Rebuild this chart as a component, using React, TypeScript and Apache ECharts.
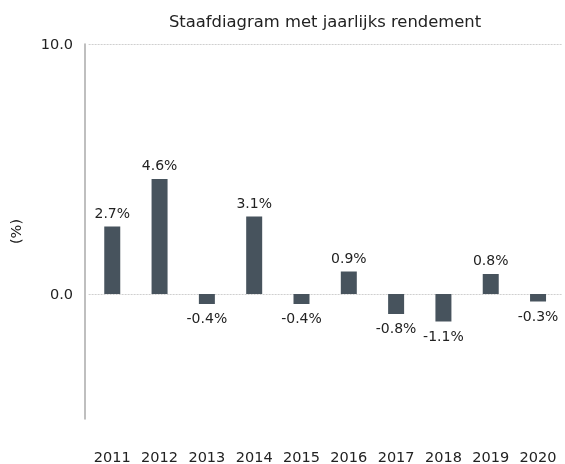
import React, { useEffect, useRef } from "react";
import * as echarts from "echarts";

const years = ["2011", "2012", "2013", "2014", "2015", "2016", "2017", "2018", "2019", "2020"];
const returns = [2.7, 4.6, -0.4, 3.1, -0.4, 0.9, -0.8, -1.1, 0.8, -0.3];
const yTicks = [0, 10];
const titleText = "Staafdiagram met jaarlijks rendement";
const yName = "(%)";

const FONT = "DejaVu Sans";
const BAR = "#47535d";

export default function App() {
  const ref = useRef<HTMLDivElement>(null);
  useEffect(() => {
    const chart = echarts.init(ref.current!, undefined, { renderer: "svg" });
    chart.setOption({
      animation: false,
      title: {
        text: titleText,
        left: 320,
        textAlign: "center",
        top: 8,
        textStyle: { fontFamily: FONT, fontSize: 16.4, fontWeight: "normal", color: "#222" },
      },
      grid: { left: 88.6, right: 3.3, top: 44, bottom: 45 },
      xAxis: {
        type: "category",
        data: years,
        axisLine: { show: false },
        axisTick: { show: false },
        axisLabel: { interval: 0, margin: 30, fontFamily: FONT, fontSize: 14.5, color: "#222" },
        splitLine: { show: false },
      },
      yAxis: {
        type: "value",
        min: -5,
        max: 10,
        offset: 3.6,
        name: yName,
        nameLocation: "middle",
        nameGap: 62,
        nameTextStyle: { fontFamily: FONT, fontSize: 14.5, color: "#222" },
        axisLine: { show: true, lineStyle: { color: "#aaa", width: 1.5 } },
        axisTick: { show: false, customValues: yTicks },
        axisLabel: {
          customValues: yTicks,
          margin: 12,
          fontFamily: FONT,
          fontSize: 14.5,
          color: "#222",
          formatter: (v: number) => v.toFixed(1),
        },
        splitLine: { show: true, lineStyle: { color: "#cfcfcf", type: [2, 1], width: 1 } },
      },
      series: [
        {
          type: "bar",
          data: returns.map((v) => ({
            value: v,
            label: { position: v >= 0 ? "top" : "bottom" },
          })),
          barWidth: 16,
          itemStyle: { color: BAR },
          label: {
            show: true,
            distance: 7,
            fontFamily: FONT,
            fontSize: 14,
            color: "#222",
            formatter: (p: any) => p.value.toFixed(1) + "%",
          },
        },
      ],
    });
    return () => chart.dispose();
  }, []);
  return (
    <div
      ref={ref}
      style={{ position: "fixed", left: 0, top: 0, width: 565, height: 464 }}
    />
  );
}
